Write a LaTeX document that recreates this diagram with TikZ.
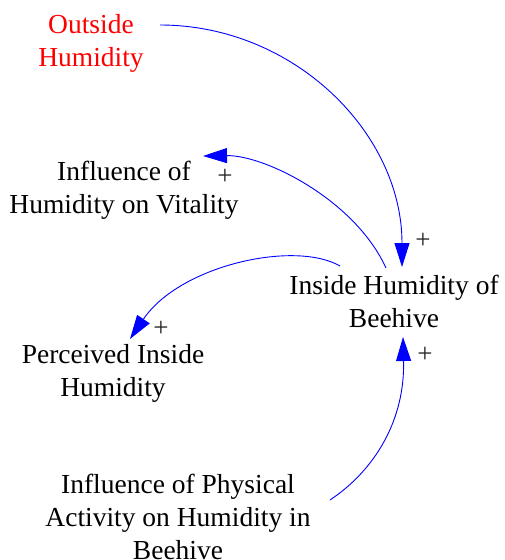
\documentclass[tikz,border=0pt]{standalone}
\usepackage{fontspec}
\setmainfont{Liberation Serif}
\usetikzlibrary{arrows.meta}
\definecolor{linkblue}{RGB}{0,0,255}
\definecolor{varred}{RGB}{255,0,0}
\begin{document}
\begin{tikzpicture}[x=1pt,y=-1pt,
  var/.style={align=center,inner sep=0pt,font=\fontsize{27.5}{33}\selectfont,text=black},
  pol/.style={inner sep=0pt,font=\fontsize{27}{28}\selectfont,text=black!85},
  link/.style={draw=linkblue,line width=0.9pt,-{Triangle[length=24pt,width=15pt]},linkblue}]
\useasboundingbox (0,0) rectangle (504,560);
\node[var,text=varred] (outside) at (91,43) {Outside\\Humidity};
\node[var] (vital) at (124,190) {Influence of\\Humidity on Vitality};
\node[var] (inside) at (394,301) {Inside Humidity of\\Beehive};
\node[var] (perc) at (113,373) {Perceived Inside\\Humidity};
\node[var] (phys) at (178,517) {Influence of Physical\\Activity on Humidity in\\Beehive};
\node[pol] (p1) at (423,241) {+};
\node[pol] (p2) at (225,177) {+};
\node[pol] (p3) at (161,329) {+};
\node[pol] (p4) at (425,355) {+};
\draw[link] ([shift={(69,-18)}]outside.center) .. controls (294,25) and (402,133) .. ([shift={(8,-34)}]inside.center);
\draw[link] ([shift={(-8,-33)}]inside.center) .. controls (355,200) and (265,155) .. ([shift={(79,-34)}]vital.center);
\draw[link] ([shift={(-54,-35)}]inside.center) .. controls (295,240) and (180,265) .. ([shift={(17,-34)}]perc.center);
\draw[link] ([shift={(152,-17)}]phys.center) .. controls (375,470) and (405,420) .. ([shift={(9,36)}]inside.center);
\end{tikzpicture}
\end{document}
